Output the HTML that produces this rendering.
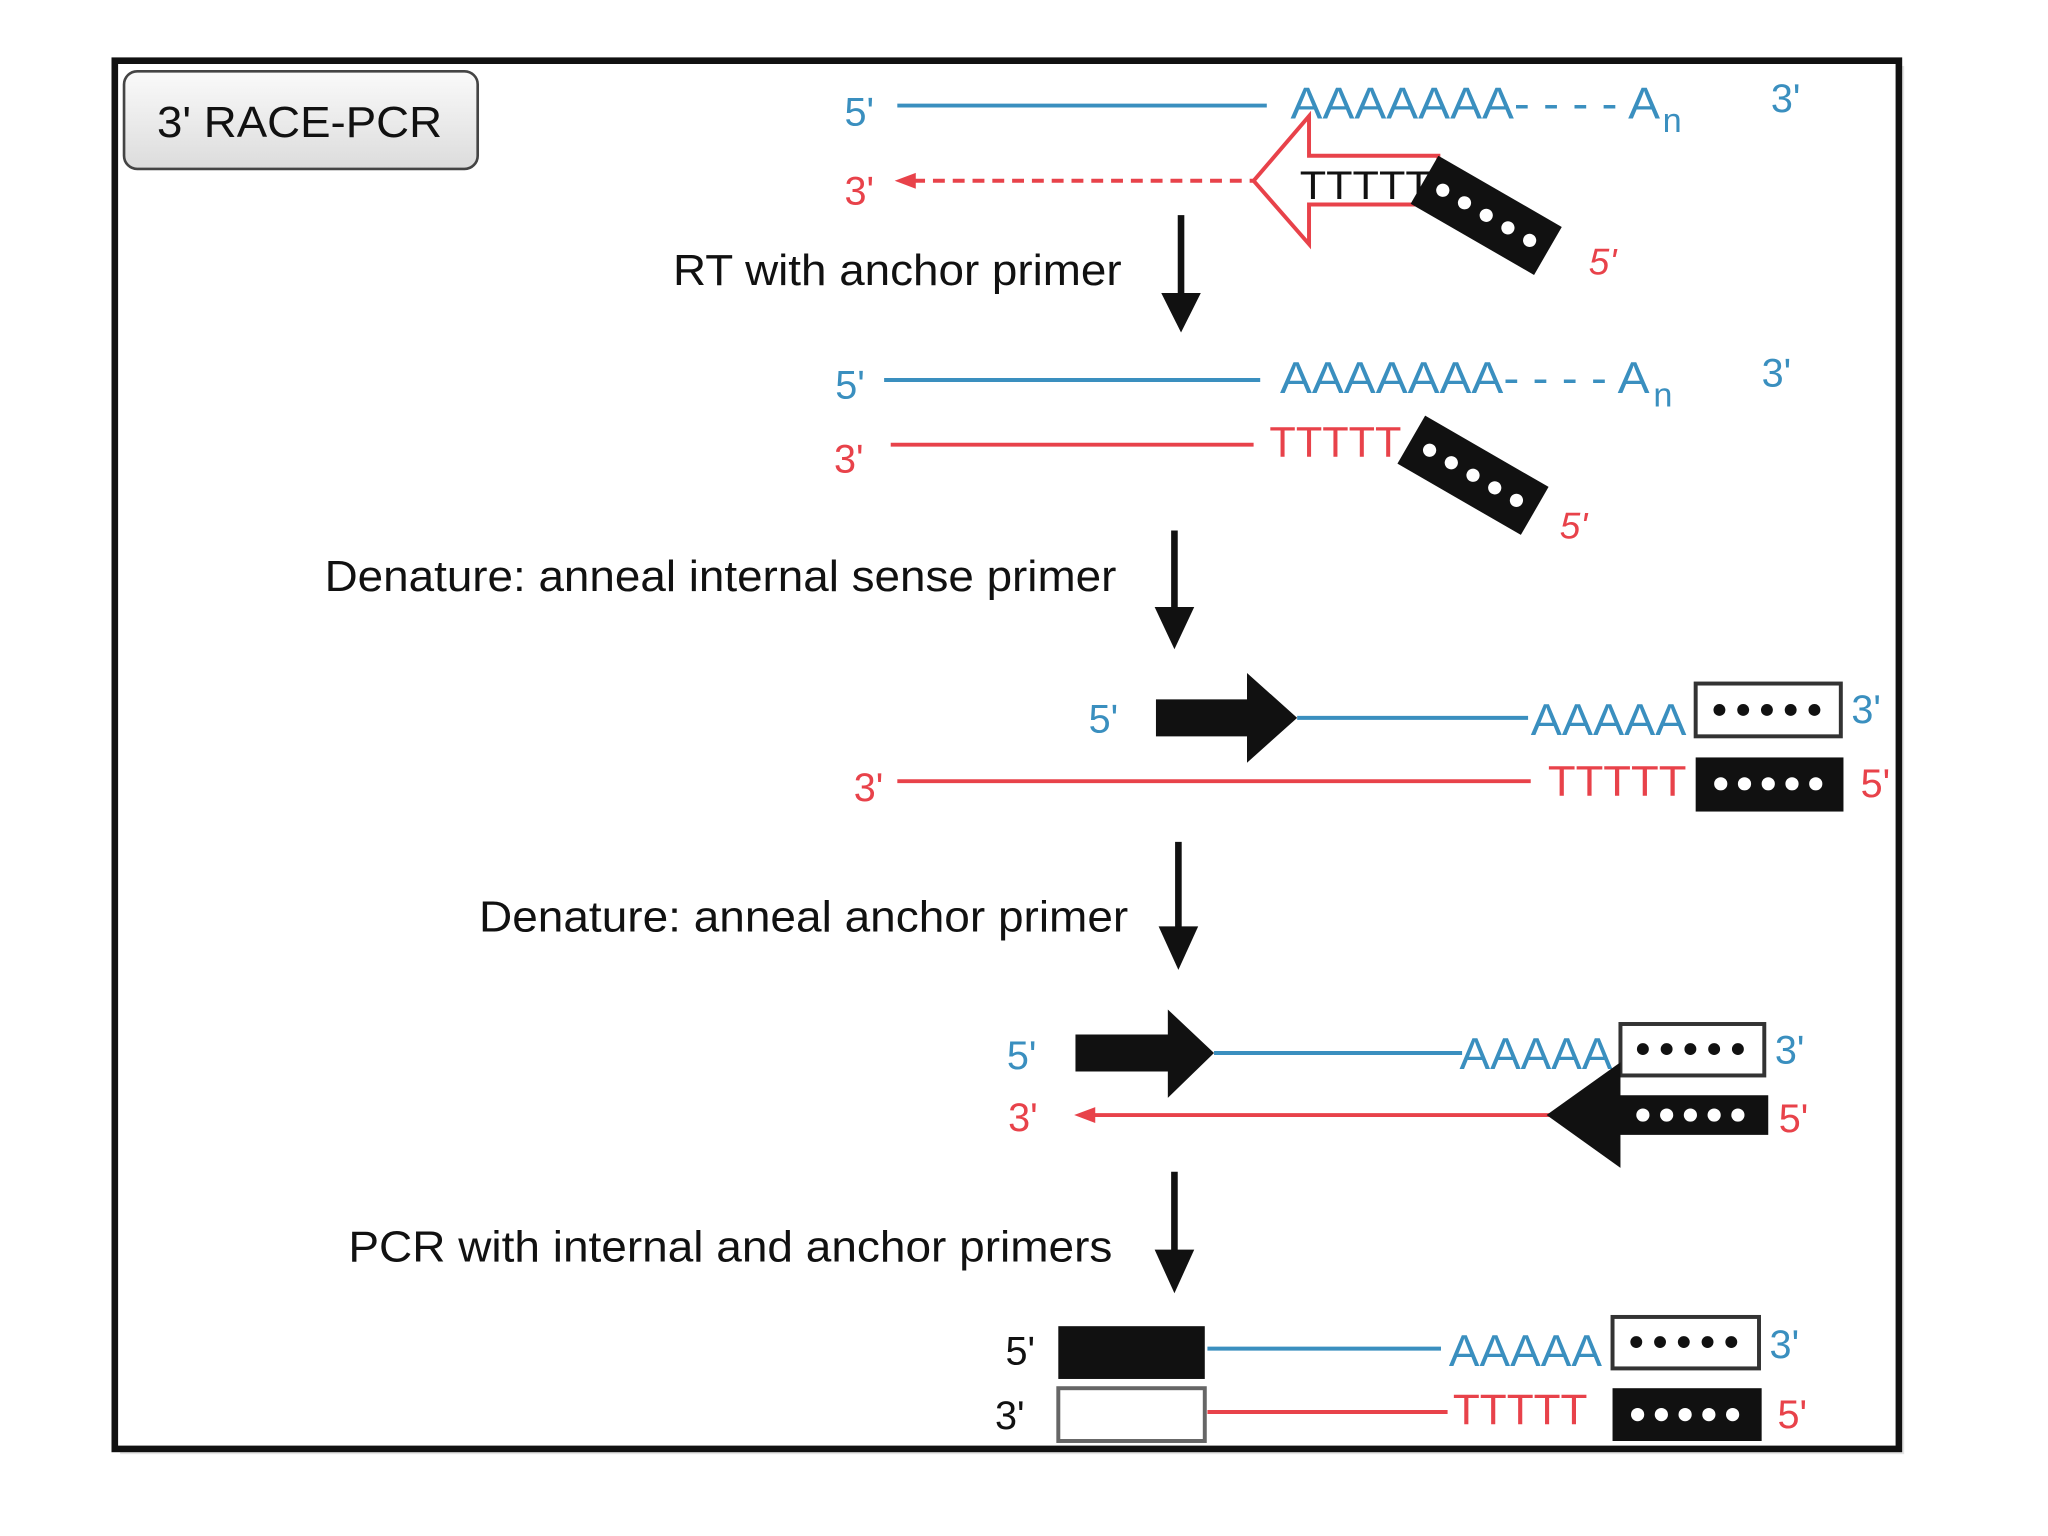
<!DOCTYPE html>
<html><head><meta charset="utf-8"><style>
html,body{margin:0;padding:0;background:#fff;overflow:hidden;}
svg{display:block;}
text{font-family:"Liberation Sans",Arial,sans-serif;}
.b{fill:#3a8fbf}.r{fill:#e8424a}.k{fill:#111}
</style></head><body>
<svg width="2048" height="1536" viewBox="0 0 1552 1164" xmlns="http://www.w3.org/2000/svg">
<defs>
<linearGradient id="g" x1="0" y1="0" x2="0" y2="1"><stop offset="0" stop-color="#fafafa"/><stop offset="1" stop-color="#dcdcdc"/></linearGradient>
</defs>
<rect x="0" y="0" width="1552" height="1164" fill="#fff"/>
<rect x="91" y="50" width="1352" height="1052" fill="#bbb" opacity="0.4"/>
<rect x="87" y="46" width="1352" height="1052" fill="#fff" stroke="#111" stroke-width="5"/>
<rect x="94" y="54" width="268" height="74" rx="10" fill="url(#g)" stroke="#444" stroke-width="2"/>
<text x="119" y="104" font-size="33" class="k" textLength="216" lengthAdjust="spacingAndGlyphs">3' RACE-PCR</text>

<!-- Row 1 -->
<text x="640" y="95" font-size="30" class="b">5'</text>
<line x1="680" y1="80" x2="960" y2="80" stroke="#3a8fbf" stroke-width="3"/>
<text x="978" y="90" font-size="34" class="b" textLength="280" lengthAdjust="spacingAndGlyphs">AAAAAAA- - - - A</text>
<text x="1260" y="100" font-size="26" class="b">n</text>
<text x="1342" y="85" font-size="30" class="b">3'</text>
<text x="640" y="155" font-size="30" class="r">3'</text>
<line x1="692" y1="137" x2="950" y2="137" stroke="#e8424a" stroke-width="3" stroke-dasharray="9,6"/>
<polygon points="678,137 694,131 694,143" fill="#e8424a"/>
<polygon points="950,137 992,88 992,118 1090,118 1090,155 992,155 992,185" fill="#fff" stroke="#e8424a" stroke-width="3"/>
<text x="985" y="151" font-size="30" class="k" textLength="100" lengthAdjust="spacingAndGlyphs">TTTTT</text>
<g transform="translate(1090,118) rotate(30)">
<rect x="0" y="0" width="108" height="42" fill="#111"/>
<circle cx="16" cy="21" r="5" fill="#fff"/><circle cx="35" cy="21" r="5" fill="#fff"/><circle cx="54" cy="21" r="5" fill="#fff"/><circle cx="73" cy="21" r="5" fill="#fff"/><circle cx="92" cy="21" r="5" fill="#fff"/>
</g>
<text x="1204" y="208" font-size="28" class="r" font-style="italic">5'</text>
<line x1="895" y1="163" x2="895" y2="225" stroke="#111" stroke-width="5"/>
<polygon points="880,222 910,222 895,252" fill="#111"/>
<text x="850" y="216" font-size="33" class="k" text-anchor="end" textLength="340" lengthAdjust="spacingAndGlyphs">RT with anchor primer</text>

<!-- Row 2 -->
<text x="633" y="302" font-size="30" class="b">5'</text>
<line x1="670" y1="288" x2="955" y2="288" stroke="#3a8fbf" stroke-width="3"/>
<text x="970" y="298" font-size="34" class="b" textLength="280" lengthAdjust="spacingAndGlyphs">AAAAAAA- - - - A</text>
<text x="1253" y="308" font-size="26" class="b">n</text>
<text x="1335" y="293" font-size="30" class="b">3'</text>
<text x="632" y="358" font-size="30" class="r">3'</text>
<line x1="675" y1="337" x2="950" y2="337" stroke="#e8424a" stroke-width="3"/>
<text x="962" y="346" font-size="32" class="r" textLength="100" lengthAdjust="spacingAndGlyphs">TTTTT</text>
<g transform="translate(1080,315) rotate(30)">
<rect x="0" y="0" width="108" height="42" fill="#111"/>
<circle cx="16" cy="21" r="5" fill="#fff"/><circle cx="35" cy="21" r="5" fill="#fff"/><circle cx="54" cy="21" r="5" fill="#fff"/><circle cx="73" cy="21" r="5" fill="#fff"/><circle cx="92" cy="21" r="5" fill="#fff"/>
</g>
<text x="1182" y="408" font-size="28" class="r" font-style="italic">5'</text>
<line x1="890" y1="402" x2="890" y2="462" stroke="#111" stroke-width="5"/>
<polygon points="875,460 905,460 890,492" fill="#111"/>
<text x="846" y="448" font-size="33" class="k" text-anchor="end" textLength="600" lengthAdjust="spacingAndGlyphs">Denature: anneal internal sense primer</text>

<!-- Row 3 -->
<text x="825" y="555" font-size="30" class="b">5'</text>
<polygon points="876,530 945,530 945,510 983,544 945,578 945,558 876,558" fill="#111"/>
<line x1="983" y1="544" x2="1158" y2="544" stroke="#3a8fbf" stroke-width="3"/>
<text x="1160" y="557" font-size="34" class="b" textLength="118" lengthAdjust="spacingAndGlyphs">AAAAA</text>
<rect x="1285" y="518" width="110" height="40" fill="#fff" stroke="#333" stroke-width="3"/>
<g fill="#111"><circle cx="1303" cy="538" r="4.5"/><circle cx="1321" cy="538" r="4.5"/><circle cx="1339" cy="538" r="4.5"/><circle cx="1357" cy="538" r="4.5"/><circle cx="1375" cy="538" r="4.5"/></g>
<text x="1403" y="548" font-size="30" class="b">3'</text>
<text x="647" y="607" font-size="30" class="r">3'</text>
<line x1="680" y1="592" x2="1160" y2="592" stroke="#e8424a" stroke-width="3"/>
<text x="1173" y="603" font-size="32" class="r" textLength="105" lengthAdjust="spacingAndGlyphs">TTTTT</text>
<rect x="1285" y="574" width="112" height="41" fill="#111"/>
<g fill="#fff"><circle cx="1304" cy="594" r="5"/><circle cx="1322" cy="594" r="5"/><circle cx="1340" cy="594" r="5"/><circle cx="1358" cy="594" r="5"/><circle cx="1376" cy="594" r="5"/></g>
<text x="1410" y="604" font-size="30" class="r">5'</text>
<line x1="893" y1="638" x2="893" y2="705" stroke="#111" stroke-width="5"/>
<polygon points="878,702 908,702 893,735" fill="#111"/>
<text x="855" y="706" font-size="33" class="k" text-anchor="end" textLength="492" lengthAdjust="spacingAndGlyphs">Denature: anneal anchor primer</text>

<!-- Row 4 -->
<text x="763" y="810" font-size="30" class="b">5'</text>
<polygon points="815,784 885,784 885,765 920,798 885,832 885,812 815,812" fill="#111"/>
<line x1="920" y1="798" x2="1108" y2="798" stroke="#3a8fbf" stroke-width="3"/>
<text x="1106" y="810" font-size="34" class="b" textLength="116" lengthAdjust="spacingAndGlyphs">AAAAA</text>
<rect x="1228" y="776" width="109" height="39" fill="#fff" stroke="#333" stroke-width="3"/>
<g fill="#111"><circle cx="1245" cy="795" r="4.5"/><circle cx="1263" cy="795" r="4.5"/><circle cx="1281" cy="795" r="4.5"/><circle cx="1299" cy="795" r="4.5"/><circle cx="1317" cy="795" r="4.5"/></g>
<text x="1345" y="806" font-size="30" class="b">3'</text>
<text x="764" y="857" font-size="30" class="r">3'</text>
<line x1="826" y1="845" x2="1175" y2="845" stroke="#e8424a" stroke-width="3"/>
<polygon points="814,845 830,839 830,851" fill="#e8424a"/>
<polygon points="1172,845 1228,805 1228,830 1340,830 1340,860 1228,860 1228,885" fill="#111"/>
<g fill="#fff"><circle cx="1245" cy="845" r="5"/><circle cx="1263" cy="845" r="5"/><circle cx="1281" cy="845" r="5"/><circle cx="1299" cy="845" r="5"/><circle cx="1317" cy="845" r="5"/></g>
<text x="1348" y="858" font-size="30" class="r">5'</text>
<line x1="890" y1="888" x2="890" y2="950" stroke="#111" stroke-width="5"/>
<polygon points="875,947 905,947 890,980" fill="#111"/>
<text x="843" y="956" font-size="33" class="k" text-anchor="end" textLength="579" lengthAdjust="spacingAndGlyphs">PCR with internal and anchor primers</text>

<!-- Row 5 -->
<text x="762" y="1034" font-size="30" class="k">5'</text>
<rect x="802" y="1005" width="111" height="40" fill="#111"/>
<line x1="915" y1="1022" x2="1092" y2="1022" stroke="#3a8fbf" stroke-width="3"/>
<text x="1098" y="1035" font-size="34" class="b" textLength="116" lengthAdjust="spacingAndGlyphs">AAAAA</text>
<rect x="1222" y="998" width="111" height="39" fill="#fff" stroke="#333" stroke-width="3"/>
<g fill="#111"><circle cx="1240" cy="1017" r="4.5"/><circle cx="1258" cy="1017" r="4.5"/><circle cx="1276" cy="1017" r="4.5"/><circle cx="1294" cy="1017" r="4.5"/><circle cx="1312" cy="1017" r="4.5"/></g>
<text x="1341" y="1029" font-size="30" class="b">3'</text>
<text x="754" y="1083" font-size="30" class="k">3'</text>
<rect x="802" y="1052" width="111" height="40" fill="#fff" stroke="#666" stroke-width="3"/>
<line x1="915" y1="1070" x2="1097" y2="1070" stroke="#e8424a" stroke-width="3"/>
<text x="1101" y="1079" font-size="32" class="r" textLength="102" lengthAdjust="spacingAndGlyphs">TTTTT</text>
<rect x="1222" y="1052" width="113" height="40" fill="#111"/>
<g fill="#fff"><circle cx="1241" cy="1072" r="5"/><circle cx="1259" cy="1072" r="5"/><circle cx="1277" cy="1072" r="5"/><circle cx="1295" cy="1072" r="5"/><circle cx="1313" cy="1072" r="5"/></g>
<text x="1347" y="1082" font-size="30" class="r">5'</text>
</svg>
</body></html>
